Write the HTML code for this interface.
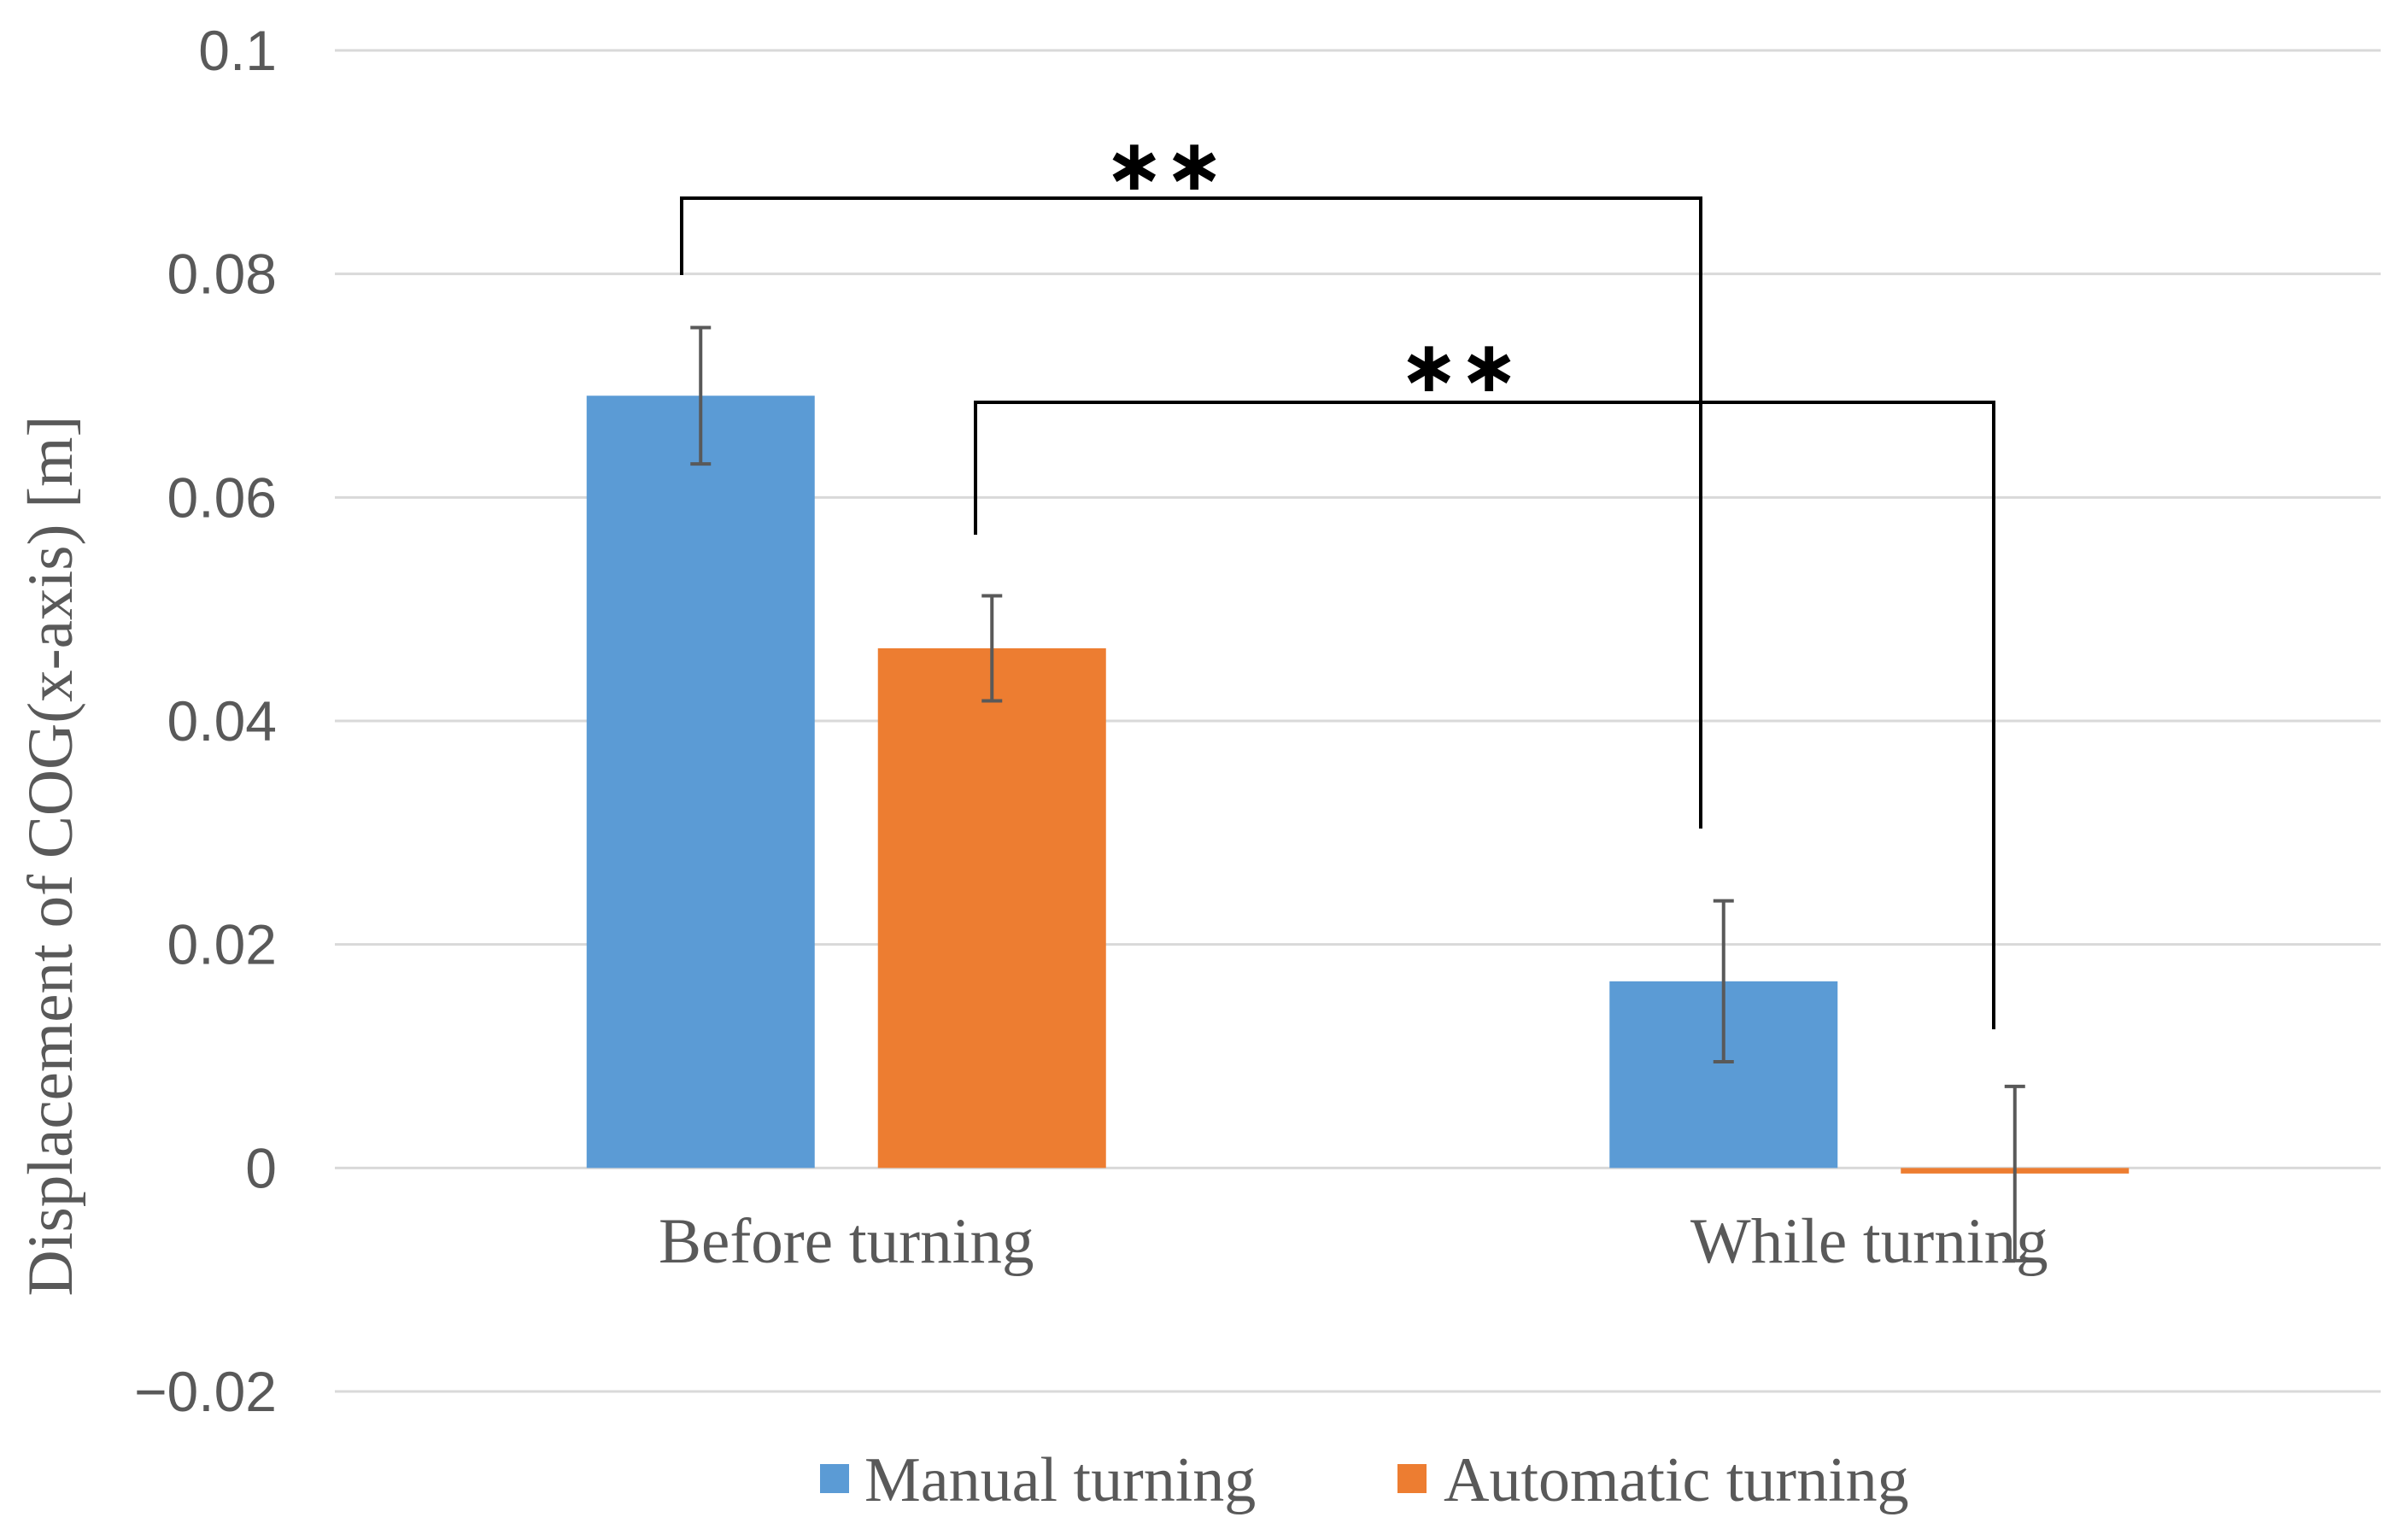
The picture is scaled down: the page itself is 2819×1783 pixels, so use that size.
<!DOCTYPE html>
<html><head><meta charset="utf-8"><style>
html,body{margin:0;padding:0;background:#fff;}
svg{display:block;}
</style></head><body>
<svg id="chart" width="2819" height="1783" viewBox="0 0 2819 1783" xmlns="http://www.w3.org/2000/svg">
<g id="grid"></g>
<g id="yticks"></g>
<g id="bars"></g>
<g id="errs"></g>
<g id="cats"></g>
<g id="brackets"></g>
<text transform="translate(84,1002) rotate(-90)" text-anchor="middle" font-family="Liberation Serif, serif" font-size="75" fill="#595959">Displacement of COG(x-axis) [m]</text>
<g>
<g>
<rect x="960" y="1714" width="34" height="34" fill="#5B9BD5"/>
<text x="1012" y="1757" font-family="Liberation Serif, serif" font-size="74" fill="#595959">Manual turning</text>
</g>
<g>
<rect x="1636" y="1714" width="34" height="34" fill="#ED7D31"/>
<text x="1690" y="1757" font-family="Liberation Serif, serif" font-size="74" fill="#595959">Automatic turning</text>
</g>
</g>
</svg>
<script>
const categories = ["Before turning", "While turning"];
const manualValues = [0.0691, 0.0167];
const automaticValues = [0.0465, -0.0005];
const manualErrors = [0.0061, 0.0072];
const automaticErrors = [0.0047, 0.0078];
const yTicks = [0.1, 0.08, 0.06, 0.04, 0.02, 0, -0.02];
const yTickLabels = ["0.1", "0.08", "0.06", "0.04", "0.02", "0", "\u22120.02"];

const NS = "http://www.w3.org/2000/svg";
const plotLeft = 392, plotRight = 2787;
const yTop = 59, yBottom = 1629, yMax = 0.1, yMin = -0.02;
function yScale(v){ return yTop + (yMax - v) / (yMax - yMin) * (yBottom - yTop); }
const catWidth = (plotRight - plotLeft) / categories.length;
function catCenter(i){ return plotLeft + catWidth * (i + 0.5); }
const barW = 267, barGap = 74;
function barX(i, s){ return catCenter(i) - barGap/2 - barW + s * (barW + barGap); }
function mk(tag, attrs, parent){ const e = document.createElementNS(NS, tag); for (const k in attrs) e.setAttribute(k, attrs[k]); parent.appendChild(e); return e; }

const grid = document.getElementById('grid');
const yt = document.getElementById('yticks');
yTicks.forEach((t, i) => {
  const y = yScale(t);
  const l = mk('line', {x1: plotLeft, x2: plotRight, y1: y, y2: y, stroke: '#D9D9D9', 'stroke-width': 3}, grid);
  
  
  const tx = mk('text', {x: 324, y: y + 23, 'text-anchor': 'end', 'font-family': 'Liberation Sans, sans-serif', 'font-size': 66, fill: '#595959'}, yt);
  tx.textContent = yTickLabels[i];
  
  
});

const bars = document.getElementById('bars');
const errs = document.getElementById('errs');
const series = [[manualValues, manualErrors, '#5B9BD5', 'manual'], [automaticValues, automaticErrors, '#ED7D31', 'automatic']];
categories.forEach((c, i) => {
  series.forEach((s, si) => {
    const v = s[0][i], e = s[1][i];
    const x = barX(i, si);
    const y0 = yScale(0), y1 = yScale(v);
    const r = mk('rect', {x: x, y: Math.min(y0, y1), width: barW, height: Math.max(Math.abs(y1 - y0), 4), fill: s[2]}, bars);
    
    
    const cx = x + barW / 2, ya = yScale(v + e), yb = yScale(v - e);
    const g = mk('g', {stroke: '#595959', 'stroke-width': 4}, errs);
    
    
    mk('line', {x1: cx, x2: cx, y1: ya, y2: yb}, g);
    mk('line', {x1: cx - 12, x2: cx + 12, y1: ya, y2: ya}, g);
    mk('line', {x1: cx - 12, x2: cx + 12, y1: yb, y2: yb}, g);
  });
});

const cats = document.getElementById('cats');
categories.forEach((c, i) => {
  const t = mk('text', {x: catCenter(i), y: 1478, 'text-anchor': 'middle', 'font-family': 'Liberation Serif, serif', 'font-size': 75, fill: '#595959'}, cats);
  t.textContent = c;
  
  
});

const br = document.getElementById('brackets');
function bracket(x1, y1, yh, x2, y2, sx, sy, name){
  const p = mk('path', {d: `M${x1},${y1} V${yh} H${x2} V${y2}`, fill: 'none', stroke: '#000', 'stroke-width': 4}, br);
  
  
  const t = mk('text', {x: sx, y: sy, 'text-anchor': 'middle', 'font-family': 'DejaVu Sans, sans-serif', 'font-size': 84, 'font-weight': 'bold', fill: '#000'}, br);
  t.textContent = '\u2217\u2217';
  
  
}
bracket(798, 322, 232, 1991, 970, 1363, 222, 'bracket-manual');
bracket(1142, 626, 471, 2334, 1205, 1708, 458, 'bracket-automatic');
</script>
</body></html>
